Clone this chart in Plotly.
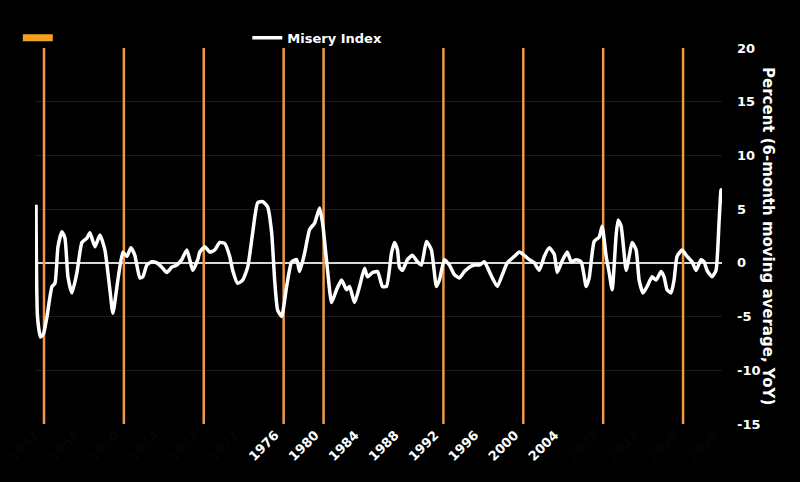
import plotly.graph_objects as go

# Misery index change (6-month moving average, YoY)
years = [
    1952.05, 1952.2, 1952.5, 1952.8, 1953.15, 1953.65, 1953.95, 1954.25, 1954.65, 1954.95,
    1955.25, 1955.65, 1956.15, 1956.65, 1957.15, 1957.45, 1957.95, 1958.45, 1958.95, 1959.45,
    1959.75, 1960.25, 1960.75, 1961.15, 1961.55, 1961.95, 1962.45, 1962.75, 1963.15, 1963.65,
    1964.15, 1964.65, 1965.15, 1965.65, 1966.15, 1966.65, 1967.15, 1967.45, 1967.75, 1968.25,
    1968.45, 1968.95, 1969.45, 1969.95, 1970.45, 1970.95, 1971.45, 1971.75, 1972.25, 1972.75,
    1973.25, 1973.75, 1974.25, 1974.75, 1975.25, 1975.65, 1975.95, 1976.25, 1976.65, 1977.15,
    1977.65, 1978.15, 1978.45, 1978.95, 1979.45, 1979.95, 1980.45, 1980.75, 1981.25, 1981.65,
    1982.15, 1982.65, 1983.15, 1983.45, 1983.95, 1984.45, 1984.95, 1985.25, 1985.75, 1986.25,
    1986.75, 1987.15, 1987.65, 1987.95, 1988.25, 1988.45, 1988.75, 1989.25, 1989.75, 1990.25,
    1990.65, 1991.15, 1991.65, 1992.15, 1992.45, 1992.95, 1993.45, 1993.95, 1994.45, 1994.95,
    1995.45, 1995.95, 1996.45, 1996.95, 1997.25, 1997.75, 1998.25, 1998.75, 1999.25, 1999.95,
    2000.45, 2000.95, 2001.45, 2001.95, 2002.45, 2002.95, 2003.45, 2003.95, 2004.25, 2004.75,
    2005.25, 2005.65, 2006.15, 2006.65, 2007.15, 2007.45, 2007.95, 2008.45, 2008.75, 2009.15,
    2009.45, 2009.75, 2010.15, 2010.35, 2010.65, 2011.15, 2011.45, 2011.75, 2012.15, 2012.45,
    2012.85, 2013.25, 2013.75, 2014.15, 2014.65, 2014.95, 2015.25, 2015.65, 2015.95, 2016.25,
    2016.75, 2017.25, 2017.75, 2018.15, 2018.65, 2018.95, 2019.25, 2019.75, 2020.15, 2020.45,
    2020.65, 2020.75,
]
misery = [
    5.4, -5.0, -6.9, -6.6, -5.0, -2.2, -1.9, 1.5, 2.9, 2.3,
    -1.3, -2.8, -0.9, 1.9, 2.3, 2.8, 1.5, 2.6, 1.2, -2.5,
    -4.7, -1.6, 1.0, 0.6, 1.4, 0.7, -1.4, -1.3, -0.2, 0.1,
    0.0, -0.4, -0.9, -0.4, -0.2, 0.3, 1.2, 0.3, -0.7, 0.3,
    1.0, 1.5, 1.0, 1.2, 1.9, 1.8, 0.6, -0.7, -1.9, -1.6,
    -0.4, 2.8, 5.6, 5.7, 5.2, 2.8, -1.6, -4.4, -5.0, -2.2,
    0.1, 0.3, -0.8, 0.9, 3.1, 3.7, 5.1, 3.7, -0.7, -3.7,
    -2.5, -1.6, -2.5, -2.2, -3.7, -2.2, -0.5, -1.3, -0.9, -0.8,
    -2.2, -2.2, 0.9, 1.9, 1.2, -0.4, -0.7, 0.3, 0.7, 0.1,
    -0.2, 2.0, 1.2, -2.2, -1.6, 0.3, -0.2, -1.1, -1.4, -0.8,
    -0.4, -0.2, -0.2, 0.1, -0.4, -1.4, -2.2, -1.1, 0.0, 0.6,
    1.0, 0.7, 0.3, 0.0, -0.7, 0.6, 1.4, 0.8, -0.9, 0.2,
    1.0, 0.1, 0.3, 0.1, -2.2, -1.4, 2.0, 2.4, 3.4, 0.6,
    -0.9, -2.5, 2.6, 4.0, 3.4, -0.7, 0.6, 1.9, 1.2, -1.6,
    -2.8, -2.2, -1.3, -1.6, -0.8, -1.3, -2.5, -2.8, -1.6, 0.6,
    1.2, 0.6, 0.1, -0.7, 0.3, 0.1, -0.7, -1.3, -0.7, 3.7,
    6.8, 5.6,
]

# Elections where the White House changed party (Nov of each year)
party_change_elections = [1952.85, 1960.85, 1968.85, 1976.85, 1980.85,
                          1992.85, 2000.85, 2008.85, 2016.85]

tick_years = list(range(1952, 2021, 4))
visible_tick_years = [1976, 1980, 1984, 1988, 1992, 1996, 2000, 2004]
y_ticks = [-15, -10, -5, 0, 5, 10, 15, 20]

Y_MIN, Y_MAX = -15, 20
ORANGE = "#EE9A48"
FONT = "DejaVu Sans"

tick_text = [
    str(y) if y in visible_tick_years else f'<span style="color:#050505">{y}</span>'
    for y in tick_years
]
y_tick_text = [str(v) for v in y_ticks]

vx, vy = [], []
for e in party_change_elections:
    vx += [e, e, None]
    vy += [Y_MIN, Y_MAX, None]

fig = go.Figure()
fig.add_trace(go.Scatter(
    x=vx, y=vy, mode="lines",
    line=dict(color=ORANGE, width=2.5),
    showlegend=False, hoverinfo="skip",
))
fig.add_trace(go.Scatter(
    x=[None], y=[None], mode="lines",
    line=dict(color="#F5A020", width=7),
    name='<span style="color:#020202">White House party swap:</span>',
))
fig.add_trace(go.Scatter(
    x=years, y=misery, mode="lines",
    line=dict(color="white", width=3.5, shape="spline", smoothing=0.5),
    name="Misery Index",
))

fig.add_annotation(
    text="Percent (6-month moving average, YoY)",
    xref="paper", yref="paper", x=1.0, y=0.5,
    xshift=57, textangle=90, showarrow=False,
    font=dict(color="white", size=15, family=FONT, weight="bold"),
)

fig.update_layout(
    width=800, height=482,
    paper_bgcolor="black", plot_bgcolor="black",
    margin=dict(l=35, r=78, t=48, b=58, autoexpand=False),
    font=dict(family=FONT, color="white", size=13, weight="bold"),
    legend=dict(
        orientation="h", x=-0.025, xanchor="left", y=0.987, yanchor="bottom",
        bgcolor="rgba(0,0,0,0)", font=dict(size=13, color="white", weight="bold", family=FONT),
        itemwidth=30,
    ),
    xaxis=dict(
        range=[1951.95, 2020.75],
        tickvals=tick_years, ticktext=tick_text, tickangle=-45,
        showgrid=False, zeroline=False, showline=False, ticks="",
        tickfont=dict(size=13, color="white", weight="bold", family=FONT),
    ),
    yaxis=dict(
        range=[Y_MIN, Y_MAX], side="right", tickvals=y_ticks, ticktext=y_tick_text,
        showgrid=True, gridcolor="#1c1c1c", gridwidth=1,
        zeroline=True, zerolinecolor="#d8d8d8", zerolinewidth=1.5,
        showline=False, ticks="", ticklabelstandoff=14,
        tickfont=dict(size=13, color="white", weight="bold", family=FONT),
    ),
)

fig.write_html(
    "out.html",
    config={"displayModeBar": False},
    post_script="document.body.style.margin='0';document.body.style.background='black';",
)
